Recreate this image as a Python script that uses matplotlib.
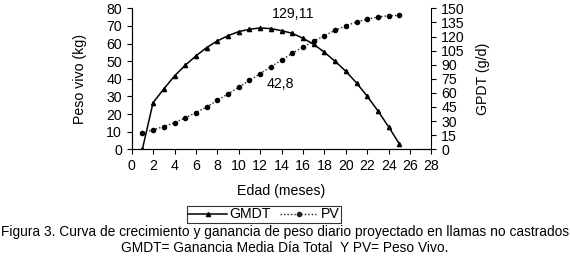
import matplotlib
matplotlib.use("Agg")
import matplotlib.pyplot as plt
from matplotlib.lines import Line2D

plt.rcParams["font.family"] = ["Liberation Sans", "DejaVu Sans"]

# datos
meses = list(range(1, 26))
gmdt = [0, 49.6, 64.2, 78.0, 89.4, 99.3, 108.2, 115.3, 120.9, 125.2, 127.7,
        129.11, 128.4, 126.2, 123.4, 118.1, 111.7, 103.2, 93.6, 83.0, 70.6,
        56.4, 40.8, 23.8, 5.7]
pv = [9.3, 11.0, 12.9, 15.1, 17.8, 20.8, 24.0, 27.8, 31.4, 35.2, 39.1, 42.9,
      46.9, 50.5, 54.5, 58.1, 61.3, 64.5, 67.5, 70.0, 72.3, 73.8, 75.1, 75.8,
      76.0]

FS = 10.2

fig = plt.figure(figsize=(5.7, 2.6), dpi=100)
ax = fig.add_axes([0.231, 0.426, 0.526, 0.542])
ax2 = ax.twinx()

# PV en eje izquierdo (kg)
ax.plot(meses, pv, color="#222222", linestyle=(0, (1, 1.5)), linewidth=1.0,
        marker="o", markersize=3, markerfacecolor="black",
        markeredgecolor="black")
# GMDT en eje derecho (g/d)
ax2.plot(meses, gmdt, color="black", linewidth=1.1, marker="^",
         markersize=3, markerfacecolor="black", markeredgecolor="black")

ax.set_xlim(0, 28)
ax.set_ylim(0, 80)
ax2.set_ylim(0, 150)
ax.set_xticks(range(0, 29, 2))
ax.set_yticks(range(0, 81, 10))
ax2.set_yticks(range(0, 151, 15))

for a in (ax, ax2):
    a.spines["top"].set_visible(False)
    a.tick_params(labelsize=FS, length=3.5, width=0.8, pad=3.5)
ax.spines["right"].set_visible(False)

ax.set_xlabel("Edad (meses)", fontsize=FS, labelpad=8)
ax.set_ylabel("Peso vivo (kg)", fontsize=FS, labelpad=14)
ax2.set_ylabel("GPDT (g/d)", fontsize=FS, labelpad=8)

ax.text(15.06, 76.8, "129,11", fontsize=FS, ha="center", va="center")
ax.text(13.85, 37, "42,8", fontsize=FS, ha="center", va="center")

handles = [
    Line2D([], [], color="black", linewidth=1.1, marker="^", markersize=3),
    Line2D([], [], color="#222222", linestyle=(0, (1, 1.5)), linewidth=1.0,
           marker="o", markersize=3),
]
leg = fig.legend(handles, ["GMDT", "PV"], loc="center",
                 bbox_to_anchor=(0.463, 0.175), ncol=2, fontsize=FS,
                 frameon=True, fancybox=False, edgecolor="black",
                 borderpad=0.1, handlelength=2.7, handletextpad=0.2,
                 columnspacing=0.6, borderaxespad=0)
leg.get_frame().set_linewidth(0.8)

fig.text(0.5, 0.106,
         "Figura 3. Curva de crecimiento y ganancia de peso diario proyectado en llamas no castrados",
         ha="center", va="center", fontsize=9.9)
fig.text(0.5, 0.046, "GMDT= Ganancia Media Día Total  Y PV= Peso Vivo.",
         ha="center", va="center", fontsize=9.9)

fig.savefig("out.png", dpi=100)
